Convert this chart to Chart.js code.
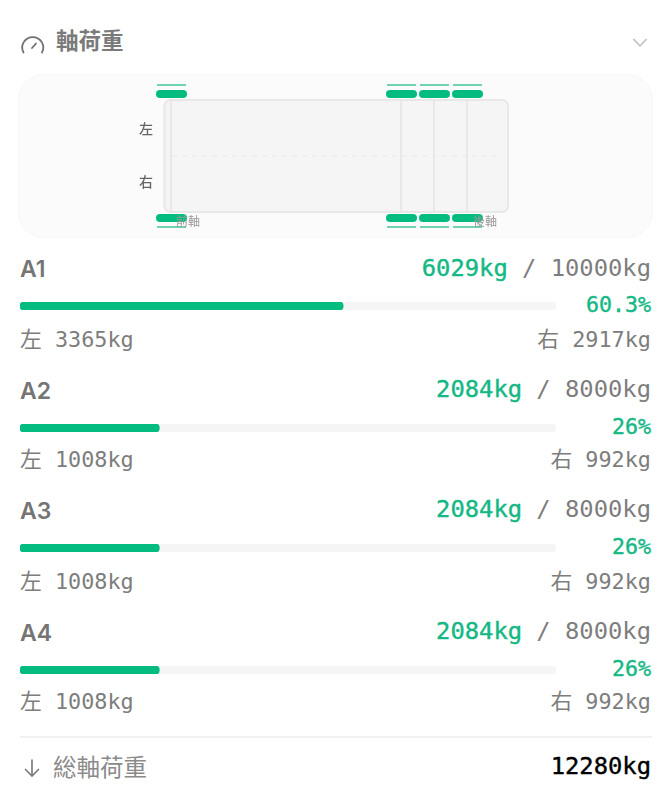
<!doctype html>
<html lang="zh-Hant">
<head>
<meta charset="utf-8">
<title>軸荷重</title>
<script src="https://cdn.jsdelivr.net/npm/chart.js@4/dist/chart.umd.js"></script>
<style>
  html, body { margin: 0; background: #fff; }
  body { position: relative; width: 672px; height: 806px; overflow: hidden; font-family: "Noto Sans CJK TC", sans-serif; }
  .t { position: absolute; white-space: nowrap; line-height: 30px; height: 30px; color: #7d7d7d; }
  .mono { font-family: "DejaVu Sans Mono", "Noto Sans CJK TC", monospace; }
  .right { right: 21px; text-align: right; }
  .big { font-size: 23.8px; }
  .small { font-size: 21.8px; }
  .pct { font-size: 21.6px; -webkit-text-stroke: 0.4px #14b885; }
  .green { color: #14b885; }
  .strong { color: #14b885; -webkit-text-stroke: 0.4px #14b885; }
  .name { left: 20px; font: 600 23px Inter, sans-serif; line-height: 30px; color: #757575; }
  #panel { position: absolute; left: 18px; top: 74px; width: 635px; height: 164px; box-sizing: border-box; background: #fbfbfb; border: 1px solid #f7f7f7; border-radius: 26px; }
  #truck { position: absolute; left: 18px; top: 74px; }
  .bar { position: absolute; left: 20px; }
  svg { position: absolute; fill: none; }
  #rule { position: absolute; left: 20px; width: 632px; top: 736px; height: 2px; background: #f1f1f1; }
</style>
</head>
<body>
<div id="panel"></div>
<canvas id="truck" width="634" height="164"></canvas>

<svg style="left:20px;top:33px" width="26" height="22" stroke="#707070" stroke-width="1.8" stroke-linecap="round">
  <path d="M3.5 19.5 A10.5 10.5 0 1 1 22 19.5"/><path d="M12 15 L16 10.5"/>
</svg>
<div class="t" style="left:56px;top:24px;font-size:22.5px;font-weight:700;color:#7a7a7a">軸荷重</div>
<svg style="left:632px;top:37px" width="16" height="11" stroke="#bdbdbd" stroke-width="1.5"><path d="M1.5 2 L8 9 L14.5 2"/></svg>

<div class="t" style="left:139px;top:113px;font-size:14px;font-weight:500;color:#666">左</div>
<div class="t" style="left:139px;top:166px;font-size:14px;font-weight:500;color:#666">右</div>
<div class="t" style="left:176px;top:206px;font-size:12px;color:#999">前軸</div>
<div class="t" style="left:473px;top:206px;font-size:12px;color:#999">後軸</div>

<div id="rows"></div>

<div id="rule"></div>
<svg style="left:22px;top:757px" width="20" height="22" stroke="#7d7d7d" stroke-width="1.7" stroke-linecap="round"><path d="M10 3 V19 M3.5 12.5 L10 19 L16.5 12.5"/></svg>
<div class="t" style="left:53px;top:751px;font-size:23.5px;color:#8a8a8a">総軸荷重</div>
<div class="t mono big right" id="total" style="top:751px;color:#000;-webkit-text-stroke:0.4px #000"></div>

<script>
// values
var axles = ["A1", "A2", "A3", "A4"];
var loads = [6029, 2084, 2084, 2084];
var limits = [10000, 8000, 8000, 8000];
var percents = [60.3, 26, 26, 26];
var leftLoads = [3365, 1008, 1008, 1008];
var rightLoads = [2917, 992, 992, 992];
var totalLoad = 12280;

// row layout
var nameTop = [254, 376, 496, 618];
var valueTop = [253, 374, 494, 616];
var barTop = [302, 424, 544, 666];
var pctTop = [290, 412, 532, 654];
var sideTop = [325, 445, 567, 687];

function addText(cls, top, html, left) {
  var d = document.createElement("div");
  d.className = "t " + cls;
  d.style.top = top + "px";
  if (left != null) d.style.left = left + "px";
  d.innerHTML = html;
  document.getElementById("rows").appendChild(d);
}

function progressBar(i) {
  var c = document.createElement("canvas");
  c.className = "bar";
  c.width = 536;
  c.height = 8;
  c.style.top = barTop[i] + "px";
  document.getElementById("rows").appendChild(c);
  new Chart(c, {
    type: "bar",
    data: {
      labels: [axles[i]],
      datasets: [
        { data: [percents[i]], backgroundColor: "#05bc80", borderRadius: 4, borderSkipped: false, order: 1 },
        { data: [100], backgroundColor: "#f5f5f5", borderRadius: 4, borderSkipped: false, order: 2 }
      ]
    },
    options: {
      indexAxis: "y",
      responsive: false,
      animation: false,
      datasets: { bar: { grouped: false, barPercentage: 1, categoryPercentage: 1 } },
      scales: { x: { display: false, min: 0, max: 100 }, y: { display: false } },
      plugins: { legend: { display: false }, tooltip: { enabled: false } }
    }
  });
}

axles.forEach(function (name, i) {
  addText("name", nameTop[i], name);
  addText("mono big right", valueTop[i], '<span class="strong">' + loads[i] + 'kg</span> / ' + limits[i] + 'kg');
  addText("mono pct right green", pctTop[i], percents[i] + "%");
  addText("mono small", sideTop[i], "左 " + leftLoads[i] + "kg", 20);
  addText("mono small right", sideTop[i], "右 " + rightLoads[i] + "kg");
  progressBar(i);
});
document.getElementById("total").textContent = totalLoad + "kg";

// truck schematic, in panel units
var wheelStart = [139, 369, 402, 435];
var wheelLen = 29;
var tyreRows = [20, 144];
var wearRows = [11, 153];
var frameX = [153, 383, 416, 449];

function seg(x0, y0, x1, y1, color, width, extra) {
  return Object.assign({
    data: [{ x: x0, y: y0 }, { x: x1, y: y1 }],
    showLine: true, pointRadius: 0, borderColor: color, borderWidth: width
  }, extra || {});
}

var truckSets = [];
truckSets.push(seg(154, 82, 478, 82, "#e9e9e9", 1, { borderDash: [5, 5] }));
frameX.forEach(function (x) { truckSets.push(seg(x, 26, x, 138, "#e8e8e8", 2)); });
wheelStart.forEach(function (x) {
  tyreRows.forEach(function (y) {
    truckSets.push(seg(x + 3, y, x + wheelLen - 3, y, "#05bc80", 8, { borderCapStyle: "round" }));
  });
  wearRows.forEach(function (y) {
    truckSets.push(seg(x, y, x + wheelLen, y, "#6fd3ae", 2));
  });
});

var truckBody = {
  id: "truckBody",
  beforeDatasetsDraw: function (chart) {
    var sx = chart.scales.x, sy = chart.scales.y, g = chart.ctx;
    var x0 = sx.getPixelForValue(146.5), x1 = sx.getPixelForValue(490);
    var y0 = sy.getPixelForValue(26), y1 = sy.getPixelForValue(138);
    g.save();
    g.beginPath();
    g.roundRect(x0, y0, x1 - x0, y1 - y0, 6);
    g.fillStyle = "#f5f5f5";
    g.fill();
    g.lineWidth = 2;
    g.strokeStyle = "#e8e8e8";
    g.stroke();
    g.restore();
  }
};

new Chart(document.getElementById("truck"), {
  type: "scatter",
  data: { datasets: truckSets },
  plugins: [truckBody],
  options: {
    responsive: false,
    animation: false,
    scales: {
      x: { type: "linear", display: false, min: 0, max: 634 },
      y: { type: "linear", display: false, min: 0, max: 164, reverse: true }
    },
    plugins: { legend: { display: false }, tooltip: { enabled: false } }
  }
});
</script>
</body>
</html>
